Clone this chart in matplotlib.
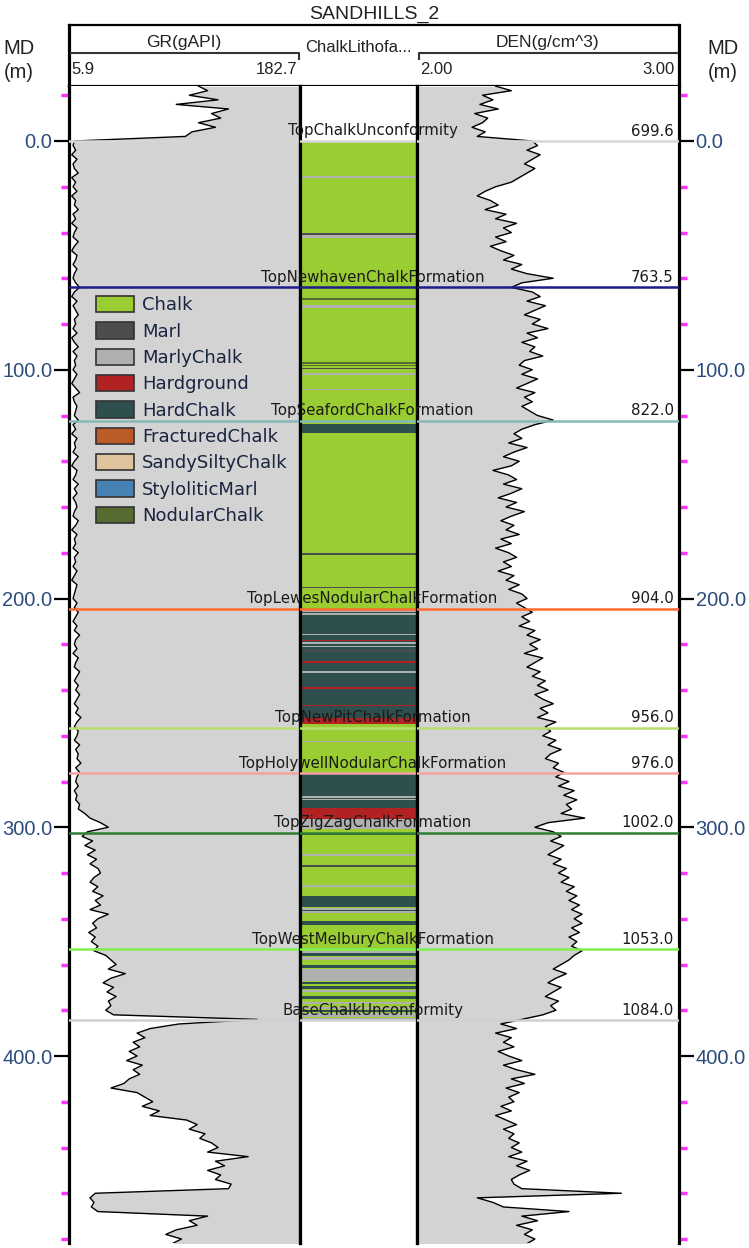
import numpy as np
import matplotlib
matplotlib.use("Agg")
import matplotlib.pyplot as plt
from matplotlib.patches import Patch
from matplotlib import transforms

# ---------------- data ----------------
well_name = "SANDHILLS_2"
depth_start, depth_step = -24.0, 2.0   # MD relative to TopChalkUnconformity (m)

gr_values = [
    105, 112,
    98, 120, 88, 128, 115, 122, 105, 118, 100, 95,
    10, 9, 11, 8, 12, 9, 10, 13, 8, 11,
    9, 12, 8, 11, 10, 13, 9, 11, 8, 12,
    10, 9, 13, 10, 8, 12, 11, 9, 12, 10,
    9, 11, 14, 10, 8, 12, 9, 11, 13, 10,
    11, 9, 12, 8, 10, 13, 9, 12, 10, 11,
    9, 12, 10, 8, 11, 14, 9, 10, 12, 11,
    10, 13, 9, 11, 8, 12, 10, 11, 9, 13,
    10, 8, 12, 11, 9, 13, 10, 12, 9, 11,
    12, 10, 9, 13, 11, 8, 12, 10, 11, 9,
    13, 10, 11, 9, 12, 10, 8, 12, 11, 10,
    9, 12, 10, 13, 11, 9, 12, 10, 14, 11,
    10, 12, 9, 13, 11, 10, 14, 12, 10, 13,
    11, 14, 12, 10, 13, 11, 15, 12, 10, 13,
    12, 10, 14, 11, 13, 12, 15, 11, 14, 12,
    11, 13, 10, 12, 11, 14, 13, 18, 22, 30,
    36, 20, 16, 24, 18, 26, 20, 27, 22, 28,
    30, 25, 22, 28, 24, 32, 26, 30, 22, 36,
    28, 24, 27, 21, 26, 23, 28, 25, 34, 38,
    42, 36, 49, 38, 32, 40, 35, 42, 36, 38,
    34, 40, 150, 90, 68, 58, 64, 55, 60, 52,
    58, 50, 62, 55, 60, 52, 48, 38, 58, 64,
    70, 62, 75, 68, 96, 104, 98, 110, 106, 115,
    120, 112, 143, 118, 125, 112, 122, 118, 130, 128,
    26, 22, 25, 23, 28, 112, 98, 104, 88, 80,
    92, 85,
]

den_values = [
    2.30, 2.36,
    2.25, 2.29, 2.24, 2.31, 2.22, 2.27, 2.25, 2.21, 2.26, 2.23,
    2.44, 2.46, 2.42, 2.47, 2.44, 2.41, 2.45, 2.42, 2.39, 2.36,
    2.30, 2.26, 2.23, 2.28, 2.31, 2.26, 2.34, 2.30, 2.38, 2.33,
    2.36, 2.30, 2.34, 2.28, 2.32, 2.37, 2.33, 2.40, 2.36, 2.42,
    2.52, 2.40, 2.36, 2.44, 2.47, 2.42, 2.49, 2.45, 2.41, 2.47,
    2.44, 2.50, 2.42, 2.46, 2.40, 2.45, 2.43, 2.48, 2.41, 2.39,
    2.44, 2.40, 2.46, 2.42, 2.38, 2.45, 2.41, 2.44, 2.40, 2.43,
    2.46, 2.52, 2.45, 2.40, 2.37, 2.40, 2.35, 2.42, 2.37, 2.33,
    2.39, 2.36, 2.29, 2.35, 2.38, 2.33, 2.40, 2.36, 2.31, 2.38,
    2.34, 2.41, 2.36, 2.32, 2.37, 2.34, 2.39, 2.32, 2.36, 2.30,
    2.35, 2.38, 2.33, 2.36, 2.31, 2.37, 2.34, 2.39, 2.35, 2.40,
    2.42, 2.38, 2.41, 2.44, 2.40, 2.43, 2.39, 2.45, 2.42, 2.47,
    2.43, 2.46, 2.41, 2.48, 2.45, 2.42, 2.47, 2.44, 2.49, 2.46,
    2.50, 2.45, 2.48, 2.52, 2.47, 2.50, 2.46, 2.53, 2.49, 2.51,
    2.48, 2.53, 2.50, 2.55, 2.51, 2.49, 2.54, 2.52, 2.56, 2.53,
    2.58, 2.54, 2.60, 2.56, 2.61, 2.57, 2.59, 2.55, 2.64, 2.50,
    2.45, 2.52, 2.55, 2.51, 2.56, 2.53, 2.50, 2.55, 2.52, 2.57,
    2.54, 2.58, 2.55, 2.60, 2.57, 2.61, 2.58, 2.62, 2.59, 2.63,
    2.60, 2.63, 2.59, 2.62, 2.58, 2.61, 2.59, 2.63, 2.60, 2.58,
    2.55, 2.52, 2.57, 2.53, 2.50, 2.55, 2.52, 2.49, 2.54, 2.51,
    2.53, 2.48, 2.40, 2.32, 2.38, 2.30, 2.36, 2.33, 2.37, 2.31,
    2.35, 2.40, 2.33, 2.38, 2.45, 2.36, 2.41, 2.34, 2.39, 2.35,
    2.37, 2.32, 2.36, 2.30, 2.34, 2.38, 2.33, 2.37, 2.35, 2.39,
    2.36, 2.40, 2.35, 2.42, 2.38, 2.43, 2.39, 2.36, 2.37, 2.40,
    2.78, 2.23, 2.29, 2.33, 2.58, 2.40, 2.46, 2.38, 2.44, 2.41,
    2.45, 2.42,
]

gr_range = (5.9, 182.7)
den_range = (2.00, 3.00)

top_names = ["TopChalkUnconformity", "TopNewhavenChalkFormation", "TopSeafordChalkFormation",
             "TopLewesNodularChalkFormation", "TopNewPitChalkFormation",
             "TopHolywellNodularChalkFormation", "TopZigZagChalkFormation",
             "TopWestMelburyChalkFormation", "BaseChalkUnconformity"]
top_md = [699.6, 763.5, 822.0, 904.0, 956.0, 976.0, 1002.0, 1053.0, 1084.0]
top_colors = ["#d6d6d6", "#1c1c8a", "#86b8b8", "#ff6a2e", "#b8e070",
              "#f4a3a0", "#2e7d32", "#80f050", "#d0d0d0"]

litho_names = ["Chalk", "Marl", "MarlyChalk", "Hardground", "HardChalk",
               "FracturedChalk", "SandySiltyChalk", "StyloliticMarl", "NodularChalk"]
litho_colors = ["#9acd32", "#4d4d4d", "#b0b0b0", "#b22222", "#2f4f4f",
                "#bb5c26", "#dec39c", "#4682b4", "#556b2f"]

litho_top = [0.0, 15.3, 40.4, 41.2, 68.8, 71.6, 96.8, 98.0, 99.1, 101.6, 108.3, 123.7,
             180.2, 195.0, 204.4, 205.2, 206.5, 215.4, 218.0, 219.2, 220.6, 222.7,
             227.5, 231.8, 238.8, 246.4, 252.3, 262.1, 276.8, 286.5, 287.7, 291.6,
             296.2, 302.5, 311.9, 316.6, 325.4, 330.2, 335.4, 336.0, 336.8, 341.0,
             354.0, 354.8, 356.6, 360.2, 362.0, 367.6, 369.4, 371.0, 373.6, 376.4,
             378.4, 380.0, 381.2, 383.6]
litho_base = [384.4, 16.2, 40.9, 42.2, 69.3, 72.8, 97.4, 98.5, 99.6, 102.3, 108.8, 127.6,
              180.8, 195.6, 255.0, 205.8, 207.0, 216.1, 218.7, 219.8, 221.3, 223.3,
              228.2, 232.5, 239.5, 247.1, 255.0, 262.8, 291.6, 287.1, 288.2, 296.2,
              300.6, 303.4, 312.6, 317.4, 326.0, 335.0, 336.0, 336.8, 337.4, 342.6,
              354.8, 356.4, 358.0, 361.6, 367.0, 368.6, 370.5, 372.0, 374.9, 377.4,
              379.4, 380.6, 383.0, 384.4]
litho_class = ["Chalk", "MarlyChalk", "Marl", "MarlyChalk", "NodularChalk", "MarlyChalk",
               "NodularChalk", "NodularChalk", "Marl", "MarlyChalk", "MarlyChalk", "HardChalk",
               "Marl", "Marl", "HardChalk", "MarlyChalk", "MarlyChalk", "MarlyChalk",
               "Hardground", "MarlyChalk", "MarlyChalk", "Marl", "Hardground", "MarlyChalk",
               "Hardground", "Hardground", "Hardground", "MarlyChalk", "HardChalk",
               "MarlyChalk", "MarlyChalk", "Hardground", "MarlyChalk", "Marl", "MarlyChalk",
               "Marl", "MarlyChalk", "HardChalk", "MarlyChalk", "HardChalk", "MarlyChalk",
               "HardChalk", "MarlyChalk", "HardChalk", "MarlyChalk", "HardChalk",
               "MarlyChalk", "HardChalk", "HardChalk", "MarlyChalk", "HardChalk",
               "MarlyChalk", "MarlyChalk", "HardChalk", "MarlyChalk", "MarlyChalk"]

major_ticks = [0, 100, 200, 300, 400]
minor_ticks = [-20, 20, 40, 60, 80, 120, 140, 160, 180, 220, 240, 260, 280,
               320, 340, 360, 380, 420, 440, 460, 480]

# ---------------- layout ----------------
W, H = 749, 1248
fig = plt.figure(figsize=(W / 100, H / 100), dpi=100)
fig.patch.set_facecolor("white")

Y_TOP, Y_BOT = 86, 1243
X_L, X_G, X_D, X_R = 69, 300, 417, 679
Y_ZERO, PX_PER_M = 141, 2.2875
d_top = (Y_TOP - Y_ZERO) / PX_PER_M
d_bot = (Y_BOT - Y_ZERO) / PX_PER_M


def fax(x0, x1, y0, y1):
    return fig.add_axes([x0 / W, 1 - y1 / H, (x1 - x0) / W, (y1 - y0) / H])


depth = depth_start + depth_step * np.arange(len(gr_values))
gr = np.array(gr_values)
den = np.array(den_values)

FILL = "#d3d3d3"
SPINE_W = 2.3
TICK_COLOR = "#2c4d7c"
MAG = "#ff33ff"

ax_gr = fax(X_L, X_G, Y_TOP, Y_BOT)
ax_li = fax(X_G, X_D, Y_TOP, Y_BOT)
ax_de = fax(X_D, X_R, Y_TOP, Y_BOT)

for ax in (ax_gr, ax_li, ax_de):
    ax.set_ylim(d_bot, d_top)
    ax.spines["top"].set_visible(False)
    ax.spines["bottom"].set_visible(False)
    ax.spines["left"].set_linewidth(SPINE_W)
    ax.spines["right"].set_linewidth(SPINE_W)
    ax.set_xticks([])
    ax.set_facecolor("white")

# GR track
ax_gr.set_xlim(*gr_range)
ax_gr.fill_betweenx(depth, gr, gr_range[1], color=FILL, lw=0, zorder=1)
ax_gr.plot(gr, depth, color="black", lw=1.0, zorder=3)

# lithology track
ax_li.set_xlim(0, 1)
ax_li.set_yticks([])
cmap = dict(zip(litho_names, litho_colors))
for t, b, c in zip(litho_top, litho_base, litho_class):
    ax_li.axhspan(t, b, color=cmap[c], lw=0, zorder=1)

# DEN track
ax_de.set_xlim(*den_range)
ax_de.fill_betweenx(depth, den_range[0], den, color=FILL, lw=0, zorder=1)
ax_de.plot(den, depth, color="black", lw=1.0, zorder=3)

# depth ticks
for ax, side in ((ax_gr, "left"), (ax_de, "right")):
    ax.set_yticks(major_ticks)
    ax.set_yticklabels([f"{v:.1f}" for v in major_ticks])
    ax.set_yticks(minor_ticks, minor=True)
    if side == "right":
        ax.yaxis.tick_right()
    ax.tick_params(axis="y", which="major", length=11, width=1.6, color="black",
                   labelsize=14.5, labelcolor=TICK_COLOR, pad=1)
    ax.tick_params(axis="y", which="minor", length=6, width=2.5, color=MAG)
    for lab in ax.get_yticklabels():
        lab.set_fontfamily("Liberation Sans")

# formation tops
datum = top_md[0]
lab_tf = transforms.blended_transform_factory(fig.transFigure, ax_gr.transData)
for name, md, col in zip(top_names, top_md, top_colors):
    d = md - datum
    for ax in (ax_gr, ax_li, ax_de):
        ax.axhline(d, color=col, lw=1.8, zorder=4)
    yb = d - 5.5 / PX_PER_M
    fig.text(372.5 / W, yb, name, transform=lab_tf, ha="center", va="baseline",
             fontsize=10.8, color="#1a1a1a", zorder=6, family="DejaVu Sans")
    fig.text(674 / W, yb, f"{md:.1f}", transform=lab_tf, ha="right", va="baseline",
             fontsize=10.8, color="#1a1a1a", zorder=6, family="DejaVu Sans")

# legend
handles = [Patch(facecolor=c, edgecolor="#333333", linewidth=1.2, label=n)
           for n, c in zip(litho_names, litho_colors)]
leg = ax_gr.legend(handles=handles, loc="upper left",
                   bbox_to_anchor=(96 / W, 1 - 296 / H), bbox_transform=fig.transFigure,
                   frameon=False, fontsize=13, handlelength=2.1, handleheight=1.02,
                   handletextpad=0.45, labelspacing=0.44, borderpad=0, borderaxespad=0,
                   labelcolor="#1a2440")
leg.set_zorder(10)

# ---------------- header ----------------
hd = fig.add_axes([0, 0, 1, 1], zorder=-1)
hd.set_xlim(0, W)
hd.set_ylim(H, 0)
hd.axis("off")
hd.plot([X_L, X_R], [25, 25], color="black", lw=1.6)
hd.plot([X_L, X_R], [86, 86], color="black", lw=1.6)
hd.plot([X_L, X_L], [25, 86], color="black", lw=SPINE_W)
hd.plot([X_R, X_R], [25, 86], color="black", lw=SPINE_W)
hd.plot([71, 299, 299], [53, 53, 59], color="#333333", lw=1.5)
hd.plot([419, 419, 677], [59, 53, 53], color="#333333", lw=1.5)

HF = "Liberation Sans"
HC = "#222222"
hd.text(374, 14, well_name, ha="center", va="center", fontsize=14, family=HF, color=HC)
hd.text(184, 43, "GR(gAPI)", ha="center", va="center", fontsize=12.5, family=HF, color=HC)
hd.text(358, 47, "ChalkLithofa...", ha="center", va="center", fontsize=12, family=HF, color=HC)
hd.text(547, 43, "DEN(g/cm^3)", ha="center", va="center", fontsize=12.5, family=HF, color=HC)
hd.text(71, 69, f"{gr_range[0]:.1f}", ha="left", va="center", fontsize=12, family=HF, color=HC)
hd.text(297, 69, f"{gr_range[1]:.1f}", ha="right", va="center", fontsize=12, family=HF, color=HC)
hd.text(420, 69, f"{den_range[0]:.2f}", ha="left", va="center", fontsize=12, family=HF, color=HC)
hd.text(675, 69, f"{den_range[1]:.2f}", ha="right", va="center", fontsize=12, family=HF, color=HC)
for xc in (19, 723):
    hd.text(xc, 49, "MD", ha="center", va="center", fontsize=14.5, family=HF, color=HC)
    hd.text(xc, 72, "(m)", ha="center", va="center", fontsize=14.5, family=HF, color=HC)

fig.savefig("out.png", dpi=100)
